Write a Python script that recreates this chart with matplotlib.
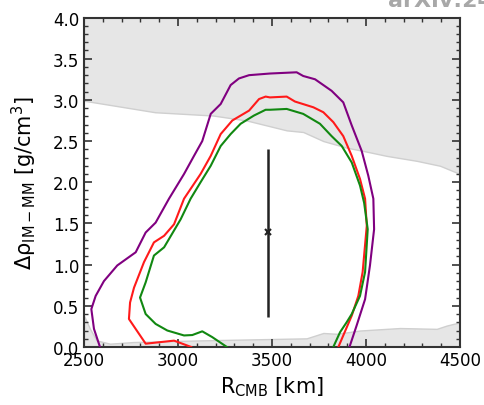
import matplotlib
matplotlib.use('Agg')
import matplotlib.pyplot as plt
import numpy as np

# shaded regions (excluded areas)
upper_x = [2500, 2878, 3187, 3365, 3578, 3666, 3773, 3897, 3986, 4110, 4270, 4394, 4500]
upper_y = [2.99, 2.85, 2.81, 2.75, 2.63, 2.61, 2.50, 2.42, 2.38, 2.32, 2.26, 2.20, 2.10]
lower_x = [2500, 2532, 2567, 2638, 2762, 3117, 3684, 3773, 3844, 3968, 4181, 4376, 4429, 4500]
lower_y = [0.38, 0.22, 0.08, 0.04, 0.06, 0.08, 0.105, 0.17, 0.16, 0.20, 0.23, 0.22, 0.26, 0.30]

# contours
purple_x = [2585, 2553, 2539, 2562, 2606, 2677, 2775, 2828, 2881, 2952, 3032, 3085, 3129, 3174,
            3227, 3280, 3324, 3378, 3489, 3631, 3666, 3729, 3817, 3879, 3924, 3977, 4012, 4039,
            4043, 4021, 3995, 3950, 3912]
purple_y = [0.0, 0.22, 0.46, 0.62, 0.80, 0.99, 1.15, 1.39, 1.51, 1.80, 2.10, 2.32, 2.50, 2.83,
            2.95, 3.18, 3.26, 3.30, 3.32, 3.335, 3.29, 3.25, 3.11, 2.97, 2.69, 2.38, 2.08, 1.80,
            1.43, 0.99, 0.58, 0.26, 0.0]

red_x = [3070, 2979, 2828, 2739, 2745, 2766, 2819, 2872, 2926, 2979, 3032, 3120, 3174, 3227,
         3289, 3378, 3431, 3466, 3489, 3578, 3622, 3720, 3773, 3826, 3879, 3924, 3968, 3995,
         4004, 3982, 3959, 3924, 3879, 3853]
red_y = [0.0, 0.077, 0.04, 0.34, 0.54, 0.72, 1.03, 1.27, 1.35, 1.49, 1.80, 2.10, 2.32, 2.585,
         2.75, 2.87, 3.01, 3.04, 3.03, 3.04, 2.98, 2.91, 2.85, 2.73, 2.56, 2.32, 2.04, 1.80,
         1.47, 0.91, 0.62, 0.38, 0.14, 0.0]

green_x = [3260, 3182, 3129, 3076, 3032, 2943, 2881, 2828, 2798, 2828, 2872, 2926, 3014, 3067,
           3120, 3174, 3227, 3280, 3333, 3404, 3466, 3489, 3578, 3666, 3755, 3817, 3871, 3924,
           3968, 3990, 4009, 3995, 3968, 3924, 3897, 3862, 3826]
green_y = [0.0, 0.12, 0.19, 0.145, 0.14, 0.20, 0.28, 0.40, 0.60, 0.785, 1.11, 1.21, 1.55, 1.80,
           2.0, 2.20, 2.44, 2.585, 2.71, 2.81, 2.88, 2.88, 2.89, 2.83, 2.71, 2.56, 2.44, 2.24,
           1.96, 1.75, 1.43, 0.91, 0.62, 0.40, 0.30, 0.18, 0.0]

# best fit with error bar
r_best = 3480
drho_best = 1.40
drho_lo = 0.36
drho_hi = 2.40

fig = plt.figure(figsize=(4.85, 4.06), dpi=100)
ax = fig.add_axes([0.1732, 0.1429, 0.7753, 0.8115])

ax.fill_between(upper_x, upper_y, 4.0, color='#e6e6e6', edgecolor='#cfcfcf', linewidth=1.0, zorder=1)
ax.fill_between(lower_x, 0.0, lower_y, color='#e6e6e6', edgecolor='#cfcfcf', linewidth=1.0, zorder=1)

ax.plot(purple_x, purple_y, color='#800080', lw=1.5, zorder=3)
ax.plot(red_x, red_y, color='#ff1a1a', lw=1.5, zorder=3)
ax.plot(green_x, green_y, color='#118811', lw=1.5, zorder=3)

ax.errorbar([r_best], [drho_best], yerr=[[drho_best - drho_lo], [drho_hi - drho_best]],
            fmt='x', color='#222222', ms=5, mew=1.5, elinewidth=1.8, capsize=0, zorder=4)

ax.set_xlim(2500, 4500)
ax.set_ylim(0, 4.0)
ax.set_xticks([2500, 3000, 3500, 4000, 4500])
ax.set_yticks(np.arange(0, 4.01, 0.5))
ax.set_xticks(np.arange(2500, 4501, 100), minor=True)
ax.set_yticks(np.arange(0, 4.01, 0.1), minor=True)
ax.tick_params(which='both', direction='in', top=True, right=True, color='#333333', labelsize=12)
ax.tick_params(which='major', length=6, width=1.2)
ax.tick_params(which='minor', length=3, width=1.0)
ax.tick_params(axis='x', pad=3)
for s in ax.spines.values():
    s.set_color('#333333')
    s.set_linewidth(1.5)

ax.set_xlabel(r'R$_{\mathrm{CMB}}$ [km]', fontsize=15)
ax.set_ylabel(r'Δρ$_{\mathrm{IM-MM}}$ [g/cm$^3$]', fontsize=15, labelpad=10)

fig.text(0.80, 1 - 7 / 406, 'arXiv:24', ha='left', va='baseline', fontsize=16,
         color='#a8a8a8', fontweight='bold')

fig.savefig('out.png', dpi=100)
